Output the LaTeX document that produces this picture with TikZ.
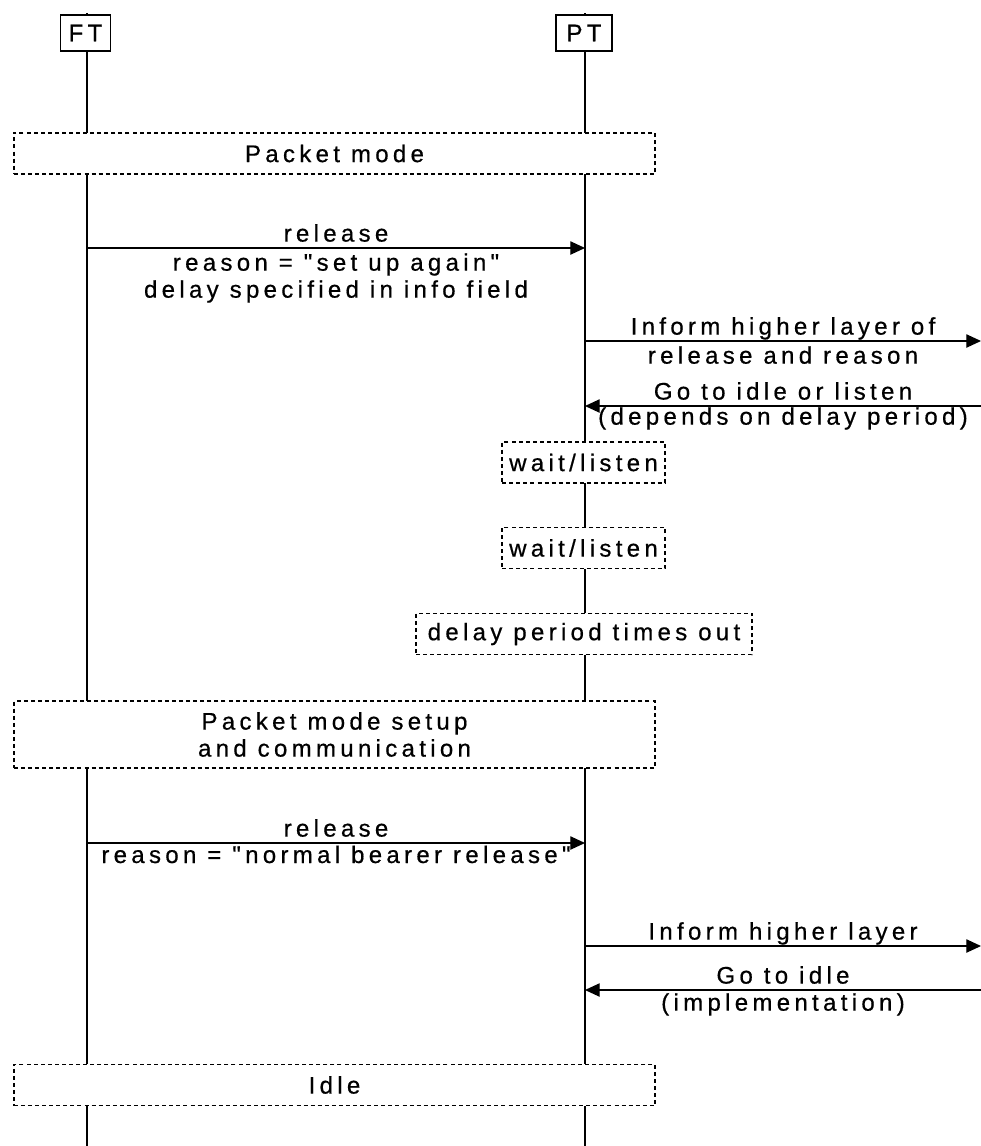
\documentclass[tikz,border=0pt]{standalone}
\usepackage{fontspec}
\setmainfont{Liberation Sans}[LetterSpace=18, FakeBold=0.6, Ligatures=TeXOff]
\usetikzlibrary{arrows.meta}

\begin{document}
\begin{tikzpicture}[
    x=0.75pt, y=-0.75pt,
    font=\fontsize{18}{20.25}\selectfont,
    lifeline/.style={line width=1.1pt},
    entity/.style={draw, line width=0.9pt, fill=white, inner sep=0pt,
        minimum height=27pt, font=\fontsize{18}{20}\selectfont},
    phase/.style={draw, line width=1.1pt, dash pattern=on 3pt off 2.3pt,
        fill=white, inner sep=0pt, align=center, minimum height=31pt},
    msg/.style={line width=0.9pt, -{Triangle[length=11pt, width=10pt]}},
    lblup/.style={anchor=base, yshift=4.8pt, inner sep=0pt},
    lbldown/.style={below, inner sep=3.5pt, align=center},
]

\useasboundingbox (0,0) rectangle (981,1146);

% =============================================
% LIFELINES
% =============================================
\coordinate (fttop) at (87,13);
\coordinate (ftbot) at (87,1146);
\coordinate (pttop) at (585,13);
\coordinate (ptbot) at (585,1146);
\draw[lifeline] (fttop) -- (ftbot);
\draw[lifeline] (pttop) -- (ptbot);

% Entity boxes
\node[entity, minimum width=38pt] (ft) at (85.5,33) {FT};
\node[entity, minimum width=42pt] (pt) at (584,33) {PT};

% =============================================
% PHASES / STATES (dotted boxes)
% =============================================
\node[phase, minimum width=481pt] (pktmode) at (334.5,153.5) {Packet mode};
\node[phase, minimum width=122pt] (wait1) at (583.5,462.5) {wait/listen};
\node[phase, minimum width=122pt] (wait2) at (583.5,548) {wait/listen};
\node[phase, minimum width=252pt] (timeout) at (584,634) {delay period times out};
\node[phase, minimum width=481pt, minimum height=50pt] (setup) at (334.5,734.5)
    {Packet mode setup\\and communication};
\node[phase, minimum width=481pt] (idle) at (334.5,1085) {Idle};

% =============================================
% MESSAGES
% =============================================
% release, set up again
\coordinate (ftrel1) at (87,248);
\coordinate (ptrel1) at (585,248);
\draw[msg] (ftrel1) -- node[lblup] {release}
    node[lbldown] {reason = "set up again"\\delay specified in info field} (ptrel1);

% inform higher layer
\coordinate (ptinf1) at (585,341);
\coordinate (hlinf1) at (981,341);
\draw[msg] (ptinf1) -- node[lblup] {Inform higher layer of}
    node[lbldown] {release and reason} (hlinf1);

% go to idle or listen
\coordinate (hlidle1) at (981,406);
\coordinate (ptidle1) at (585,406);
\draw[msg] (hlidle1) -- node[lblup] {Go to idle or listen}
    node[lbldown, inner sep=0.5pt] {(depends on delay period)} (ptidle1);

% release, normal
\coordinate (ftrel2) at (87,843);
\coordinate (ptrel2) at (585,843);
\draw[msg] (ftrel2) -- node[lblup] {release}
    node[lbldown, inner sep=1.5pt] {reason = "normal bearer release"} (ptrel2);

% inform higher layer
\coordinate (ptinf2) at (585,946);
\coordinate (hlinf2) at (981,946);
\draw[msg] (ptinf2) -- node[lblup] {Inform higher layer} (hlinf2);

% go to idle
\coordinate (hlidle2) at (981,990);
\coordinate (ptidle2) at (585,990);
\draw[msg] (hlidle2) -- node[lblup] {Go to idle}
    node[lbldown, inner sep=2pt] {(implementation)} (ptidle2);

\end{tikzpicture}
\end{document}
